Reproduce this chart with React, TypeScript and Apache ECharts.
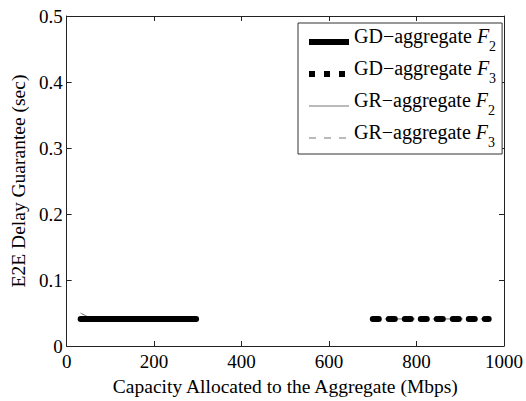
import React, { useEffect, useRef } from "react";
import * as echarts from "echarts";

const capacityGD2 = [32, 60, 100, 150, 200, 250, 296];
const delayGD2 = [0.041, 0.041, 0.041, 0.041, 0.041, 0.041, 0.041];
const capacityGD3 = [700, 750, 800, 850, 900, 965];
const delayGD3 = [0.041, 0.041, 0.041, 0.041, 0.041, 0.041];
const capacityGR2 = [32, 40, 50, 60, 72, 100, 150, 200, 250, 296];
const delayGR2 = [0.05, 0.047, 0.044, 0.042, 0.041, 0.041, 0.041, 0.041, 0.041, 0.041];
const capacityGR3 = [700, 750, 800, 850, 900, 965];
const delayGR3 = [0.041, 0.041, 0.041, 0.041, 0.041, 0.041];
const xTicks = [0, 200, 400, 600, 800, 1000];
const yTicks = [0, 0.1, 0.2, 0.3, 0.4, 0.5];
const seriesNames = ["GD−aggregate|2", "GD−aggregate|3", "GR−aggregate|2", "GR−aggregate|3"];

const FONT = "'Liberation Serif', 'DejaVu Serif', serif";

const zip = (xs: number[], ys: number[]) => xs.map((x, i) => [x, ys[i]]);

export default function App() {
  const ref = useRef<HTMLDivElement>(null);
  useEffect(() => {
    if (!ref.current) return;
    const chart = echarts.init(ref.current, null, { renderer: "svg" });
    const axisLine = { show: true, onZero: false, lineStyle: { color: "#222", width: 1 } };
    const tick = { show: true, inside: true, length: 5, lineStyle: { color: "#222" } };
    const labelStyle = { fontFamily: FONT, fontSize: 19, color: "#000" };
    chart.setOption({
      animation: false,
      backgroundColor: "#fff",
      textStyle: { fontFamily: FONT },
      grid: { left: 66, right: 19, top: 16, bottom: 48 },
      legend: {
        orient: "vertical",
        left: 298,
        top: 23,
        padding: [3, 6, 5, 8],
        itemGap: 5,
        itemWidth: 40,
        itemHeight: 14,
        backgroundColor: "#fff",
        borderColor: "#333",
        borderWidth: 1,
        borderRadius: 0,
        itemStyle: { opacity: 0 },
        textStyle: {
          fontFamily: FONT,
          fontSize: 20,
          color: "#000",
          rich: {
            t: { fontFamily: FONT, fontSize: 20, color: "#000", lineHeight: 32, verticalAlign: "top" },
            i: { fontFamily: FONT, fontSize: 20, fontStyle: "italic", color: "#000", lineHeight: 32, verticalAlign: "top" },
            s: { fontFamily: FONT, fontSize: 14, color: "#000", verticalAlign: "top", padding: [13, 0, 0, 0] },
          },
        },
        formatter: (name: string) => {
          const parts = name.split("|");
          return "{t|" + parts[0] + " }{i|F}{s|" + parts[1] + "}";
        },
        data: [
          { name: seriesNames[0], lineStyle: { color: "#000", width: 6, type: "solid", cap: "butt" } },
          { name: seriesNames[1], lineStyle: { color: "#000", width: 6, type: [6, 9], cap: "butt" } },
          { name: seriesNames[2], lineStyle: { color: "#777", width: 1, type: "solid" } },
          { name: seriesNames[3], lineStyle: { color: "#777", width: 1, type: [7, 8] } },
        ],
      },
      xAxis: [
        {
          type: "value",
          min: xTicks[0],
          max: xTicks[xTicks.length - 1],
          interval: 200,
          position: "bottom",
          axisLine,
          axisTick: tick,
          splitLine: { show: false },
          axisLabel: { ...labelStyle, margin: 6, formatter: (v: number) => String(v) },
          name: "Capacity Allocated to the Aggregate (Mbps)",
          nameLocation: "middle",
          nameGap: 30,
          nameTextStyle: { ...labelStyle, fontSize: 19.5 },
        },
        {
          type: "value",
          min: xTicks[0],
          max: xTicks[xTicks.length - 1],
          interval: 200,
          position: "top",
          axisLine,
          axisTick: tick,
          splitLine: { show: false },
          axisLabel: { show: false },
        },
      ],
      yAxis: [
        {
          type: "value",
          min: yTicks[0],
          max: yTicks[yTicks.length - 1],
          interval: 0.1,
          position: "left",
          axisLine,
          axisTick: tick,
          splitLine: { show: false },
          axisLabel: {
            ...labelStyle,
            margin: 4,
            formatter: (v: number) => (v === 0 ? "0" : v.toFixed(1)),
          },
          name: "E2E Delay Guarantee (sec)",
          nameLocation: "middle",
          nameGap: 38,
          nameTextStyle: { ...labelStyle, fontSize: 19.5 },
        },
        {
          type: "value",
          min: yTicks[0],
          max: yTicks[yTicks.length - 1],
          interval: 0.1,
          position: "right",
          axisLine,
          axisTick: tick,
          splitLine: { show: false },
          axisLabel: { show: false },
        },
      ],
      series: [
        {
          name: seriesNames[2],
          type: "line",
          data: zip(capacityGR2, delayGR2),
          smooth: true,
          showSymbol: false,
          symbol: "none",
          lineStyle: { color: "#666", width: 1 },
          itemStyle: { color: "#666" },
          z: 2,
        },
        {
          name: seriesNames[3],
          type: "line",
          data: zip(capacityGR3, delayGR3),
          showSymbol: false,
          symbol: "none",
          lineStyle: { color: "#666", width: 1, type: [6, 6] },
          itemStyle: { color: "#666" },
          z: 2,
        },
        {
          name: seriesNames[0],
          type: "line",
          data: zip(capacityGD2, delayGD2),
          showSymbol: false,
          symbol: "none",
          lineStyle: { color: "#000", width: 6, cap: "round" },
          itemStyle: { color: "#000" },
          z: 3,
        },
        {
          name: seriesNames[1],
          type: "line",
          data: zip(capacityGD3, delayGD3),
          showSymbol: false,
          symbol: "none",
          lineStyle: { color: "#000", width: 6, type: [6, 10], cap: "round" },
          itemStyle: { color: "#000" },
          z: 3,
        },
      ],
    });
    return () => chart.dispose();
  }, []);
  return <div ref={ref} style={{ width: 526, height: 401, position: "absolute", left: 0, top: 0 }} />;
}
